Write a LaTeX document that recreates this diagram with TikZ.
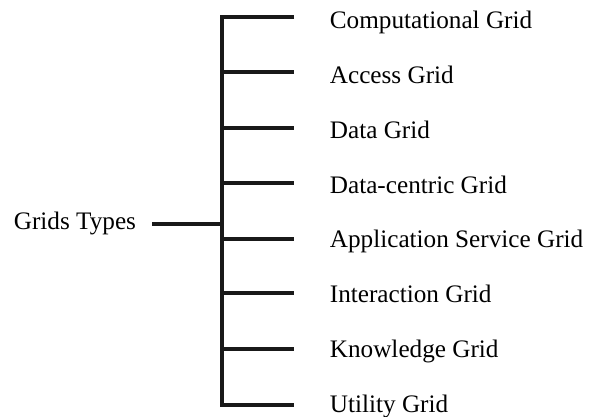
\documentclass[tikz,border=0pt]{standalone}
\usepackage{fontspec}
\setmainfont{Liberation Serif}
\usetikzlibrary{positioning}

\begin{document}
\begin{tikzpicture}[
  x=1pt, y=1pt,
  font=\fontsize{25.2}{30}\selectfont,
  line width=3.8pt,
  branch/.style={draw=black!90},
  item/.style={anchor=base west, inner sep=0pt}]

\useasboundingbox (0,0) rectangle (596,-416);

% spine joints, branch ends and labels
\foreach \i/\y/\b/\t in {0/17/28/Computational Grid,
                         1/72/83/Access Grid,
                         2/128/138/Data Grid,
                         3/183/193/Data-centric Grid,
                         4/239/247/Application Service Grid,
                         5/293/302/Interaction Grid,
                         6/349/357/Knowledge Grid,
                         7/405/412/Utility Grid} {
  \coordinate (j\i) at (222,-\y);
  \coordinate (e\i) at (294,-\y);
  \node[item] (l\i) at (328,-\b) {\t};
}

% root
\node[item] (root) at (12,-229) {Grids Types};
\coordinate (s) at (152,-224);
\coordinate (t) at (222,-224);

\draw[branch] (e0) -- (j0) -- (j7) -- (e7);
\foreach \i in {1,...,6}
  \draw[branch] (j\i) -- (e\i);
\draw[branch] (s) -- (t);

\end{tikzpicture}
\end{document}
